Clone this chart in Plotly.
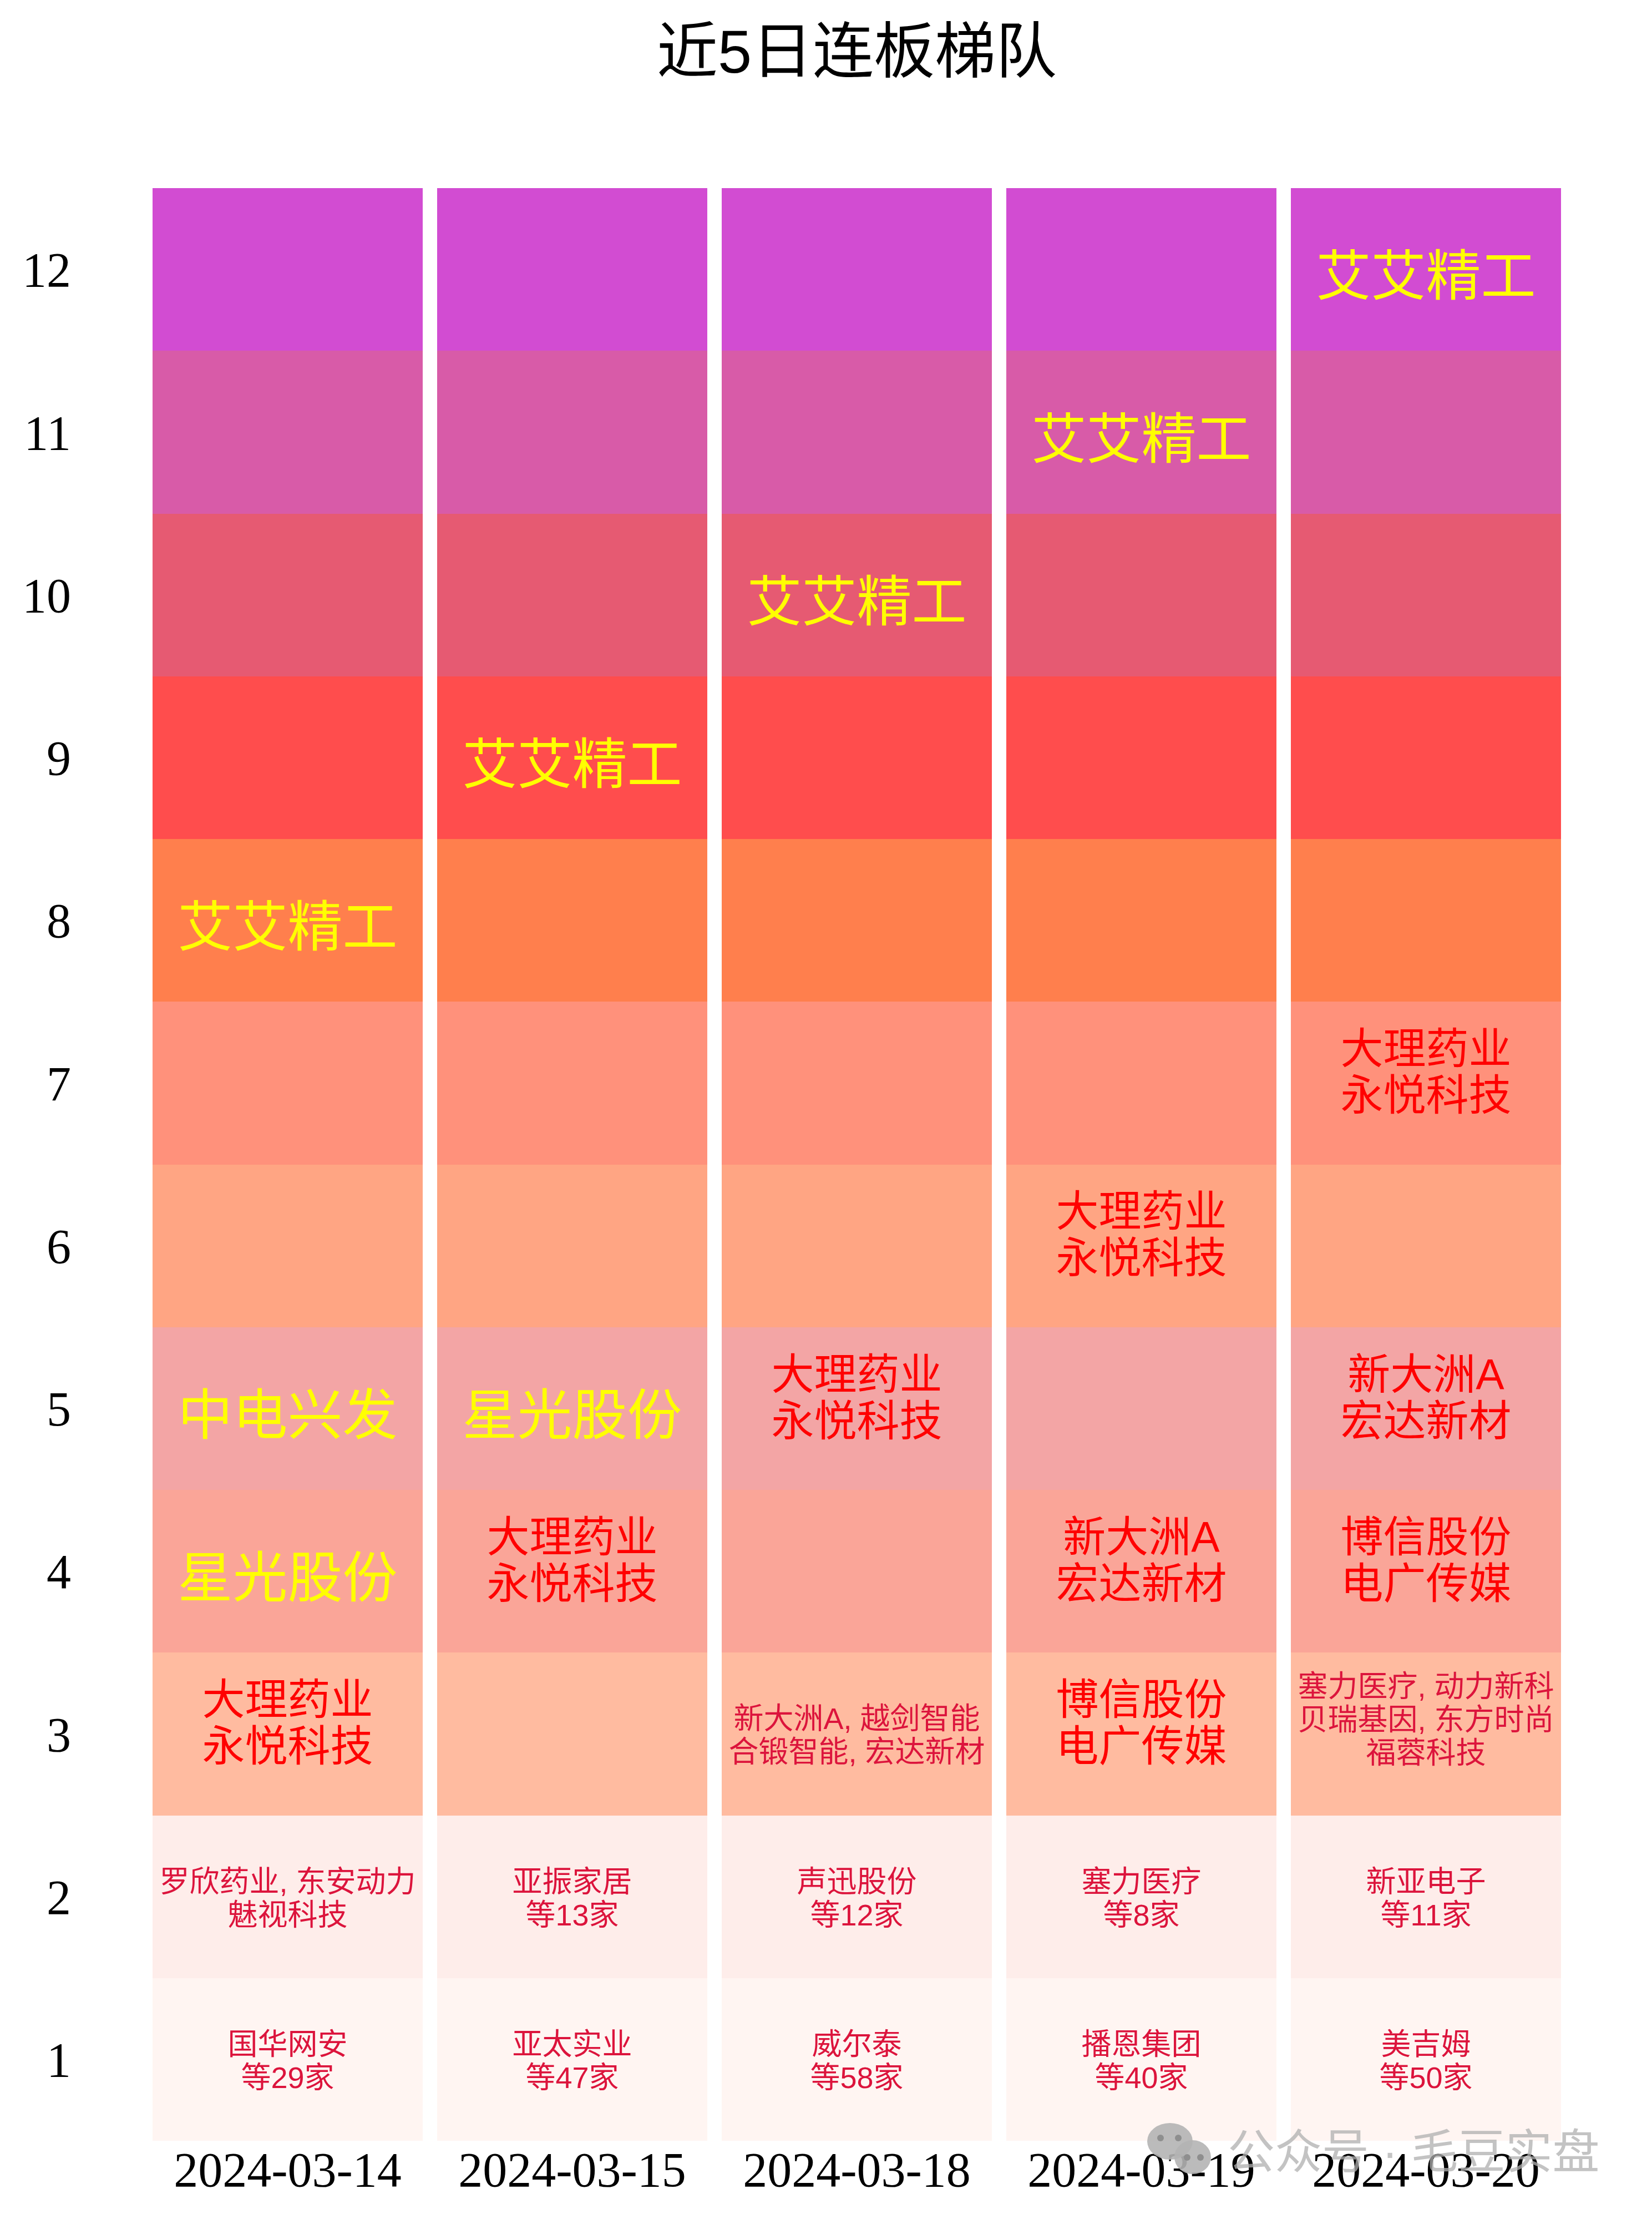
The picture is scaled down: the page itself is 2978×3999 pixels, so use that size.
import plotly.graph_objects as go

TITLE = "近5日连板梯队"
dates = ["2024-03-14", "2024-03-15", "2024-03-18", "2024-03-19", "2024-03-20"]
levels = [1, 2, 3, 4, 5, 6, 7, 8, 9, 10, 11, 12]
level_colors = ["#FFF5F2", "#FEEDEA", "#FFBBA0", "#FAA598", "#F3A5A5", "#FFA583",
                "#FF917B", "#FF7F4D", "#FF4D4D", "#E65A72", "#D85BA8", "#D24CD2"]

# (date index, level, label)
large_labels = [
    (0, 8, "艾艾精工"), (1, 9, "艾艾精工"), (2, 10, "艾艾精工"), (3, 11, "艾艾精工"), (4, 12, "艾艾精工"),
    (0, 5, "中电兴发"), (1, 5, "星光股份"), (0, 4, "星光股份"),
]
medium_labels = [
    (0, 3, "大理药业<br>永悦科技"), (1, 4, "大理药业<br>永悦科技"), (2, 5, "大理药业<br>永悦科技"),
    (3, 6, "大理药业<br>永悦科技"), (4, 7, "大理药业<br>永悦科技"),
    (3, 4, "新大洲A<br>宏达新材"), (4, 5, "新大洲A<br>宏达新材"),
    (3, 3, "博信股份<br>电广传媒"), (4, 4, "博信股份<br>电广传媒"),
]
small_labels = [
    (2, 3, "新大洲A, 越剑智能<br>合锻智能, 宏达新材"),
    (4, 3, "塞力医疗, 动力新科<br>贝瑞基因, 东方时尚<br>福蓉科技"),
    (0, 2, "罗欣药业, 东安动力<br>魅视科技"), (1, 2, "亚振家居<br>等13家"), (2, 2, "声迅股份<br>等12家"),
    (3, 2, "塞力医疗<br>等8家"), (4, 2, "新亚电子<br>等11家"),
    (0, 1, "国华网安<br>等29家"), (1, 1, "亚太实业<br>等47家"), (2, 1, "威尔泰<br>等58家"),
    (3, 1, "播恩集团<br>等40家"), (4, 1, "美吉姆<br>等50家"),
]

PAGE = 8  # body margin of the written page
W, H = 2978 - 2 * PAGE, 3999 - 2 * PAGE
L, R, T, B = 262 - PAGE, 2827 - PAGE, 339 - PAGE, 3858 - PAGE
SERIF = "Liberation Serif, Noto Sans CJK SC"
SANS = "Liberation Sans, Noto Sans CJK SC"
CELL = (B - T) / 12


def px(x):
    return (x - L) / (R - L)


def py(y):
    return (B - y) / (B - T)


fig = go.Figure()
for lv, col in zip(levels, level_colors):
    fig.add_trace(go.Bar(x=dates, y=[1] * len(dates), marker=dict(color=col, line_width=0),
                         width=0.95, showlegend=False, hoverinfo="skip", name=str(lv)))

# size, colour, line pitch (px), block shift by line count (px, upwards positive)
styles = [(large_labels, 99, "#FFFF00", 0, {1: -22}),
          (medium_labels, 77, "#FF0000", 84, {2: 12}),
          (small_labels, 54, "#DC143C", 60, {2: -8, 3: 20})]
for labels, size, color, pitch, shift in styles:
    xs, ys, texts = [], [], []
    for i, lv, t in labels:
        lines = t.split("<br>")
        n = len(lines)
        for k, line in enumerate(lines):
            xs.append(dates[i])
            off = ((n - 1) / 2 - k) * pitch + shift[n]
            ys.append(lv - 0.5 + off / CELL)
            texts.append(line)
    fig.add_trace(go.Scatter(x=xs, y=ys, text=texts, mode="text", textposition="middle center",
                             textfont=dict(size=size, color=color, family=SANS),
                             showlegend=False, hoverinfo="skip"))

eyes = [(2092, 3853), (2124, 3853), (2140, 3888), (2164, 3888)]
shapes = [dict(type="circle", xref="paper", yref="paper", layer="above", line_width=0,
               fillcolor="#B4B4B4", opacity=0.9,
               x0=px(a - PAGE), x1=px(c - PAGE), y0=py(d - PAGE), y1=py(b - PAGE))
          for a, b, c, d in [(2068, 3826, 2150, 3892), (2117, 3857, 2183, 3918)]]
shapes += [dict(type="circle", xref="paper", yref="paper", layer="above", line_width=0,
                fillcolor="#8E8E8E",
                x0=px(x - 6 - PAGE), x1=px(x + 6 - PAGE), y0=py(y + 6 - PAGE), y1=py(y - 6 - PAGE))
           for x, y in eyes]

fig.update_layout(
    width=W, height=H, autosize=False, barmode="stack", bargap=0.05,
    paper_bgcolor="white", plot_bgcolor="white",
    margin=dict(l=L, r=W - R, t=T, b=H - B, pad=0),
    title=dict(text=TITLE, x=0.5, xref="paper", xanchor="center", y=1 - (92 - PAGE) / H, yanchor="middle",
               font=dict(size=110, color="black", family=SANS)),
    xaxis=dict(type="category", categoryorder="array", categoryarray=dates, range=[-0.5, 4.5],
               showgrid=False, zeroline=False, showline=False, ticks="", ticklabelstandoff=-7,
               tickfont=dict(size=88, color="black", family=SERIF)),
    yaxis=dict(range=[0, 12], tickmode="array", tickvals=[v - 0.5 for v in levels],
               ticktext=[str(v) for v in levels], showgrid=False, zeroline=False, showline=False,
               ticks="", ticklabelstandoff=133, tickfont=dict(size=88, color="black", family=SERIF)),
    annotations=[dict(text="公众号 · 毛豆实盘", xref="paper", yref="paper",
                      x=px(2886 - PAGE), y=py(3878 - PAGE), xanchor="right", yanchor="middle",
                      showarrow=False, opacity=0.75,
                      font=dict(size=85, color="#B0B0B0", family=SANS))],
    shapes=shapes,
)
fig.write_html("out.html")
